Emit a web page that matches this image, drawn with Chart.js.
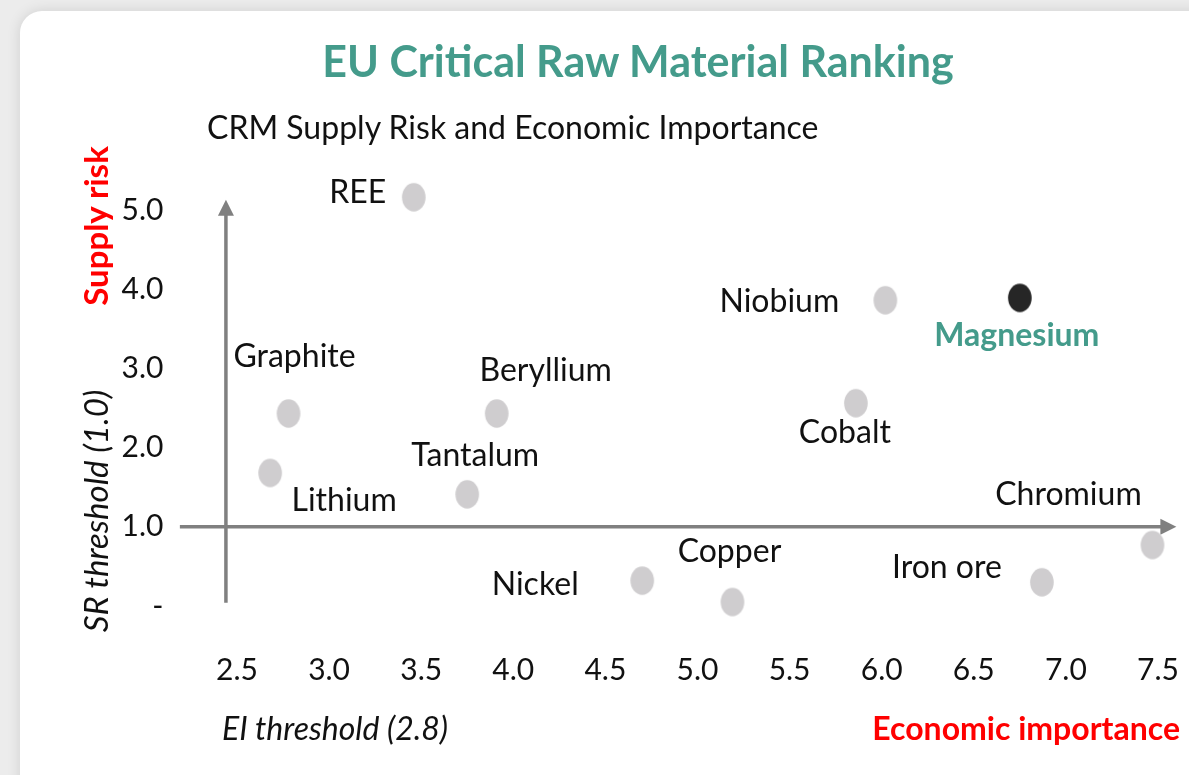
<!DOCTYPE html>
<html>
<head>
<meta charset="utf-8">
<script src="https://cdn.jsdelivr.net/npm/chart.js@4/dist/chart.umd.min.js"></script>
<style>
  html, body { margin: 0; padding: 0; }
  body { width: 1189px; height: 775px; overflow: hidden; background: #ececec; position: relative; font-family: Lato, sans-serif; }
  #card { position: absolute; left: 20px; top: 11px; width: 1260px; height: 820px; background: #fff; border-radius: 22px; box-shadow: 0 0 14px rgba(0,0,0,0.12); }
  #chart { position: absolute; left: 0; top: 0; }
  .txt { position: absolute; white-space: nowrap; line-height: 1; }
  #title { left: 0; width: 1276px; top: 39px; text-align: center; font-weight: 700; font-size: 43px; color: #449b8b; }
  #subtitle { left: 207px; top: 111px; font-size: 32px; color: #111; }
  .rot { transform-origin: center center; }
  #yTitle { left: 95px; top: 226px; transform: translate(-50%, -50%) rotate(-90deg); font-weight: 700; font-size: 33px; color: #ff0000; }
  #yThr { left: 95px; top: 511px; transform: translate(-50%, -50%) rotate(-90deg); font-style: italic; font-size: 33px; color: #111; }
  #xThr { left: 222px; top: 712px; font-style: italic; font-size: 32px; color: #111; }
  #xTitle { right: 9px; top: 712px; font-weight: 700; font-size: 32px; color: #ff0000; }
</style>
</head>
<body>
<div id="card"></div>
<canvas id="chart" width="1189" height="775"></canvas>
<div class="txt" id="title">EU Critical Raw Material Ranking</div>
<div class="txt" id="subtitle">CRM Supply Risk and Economic Importance</div>
<div class="txt rot" id="yTitle">Supply risk</div>
<div class="txt rot" id="yThr">SR threshold (1.0)</div>
<div class="txt" id="xThr">EI threshold (2.8)</div>
<div class="txt" id="xTitle">Economic importance</div>
<script>
// ---- data ----
const materials = ['REE', 'Niobium', 'Magnesium', 'Graphite', 'Beryllium', 'Cobalt', 'Lithium', 'Tantalum', 'Chromium', 'Nickel', 'Copper', 'Iron ore'];
const economicImportance = [3.46, 6.02, 6.75, 2.78, 3.91, 5.86, 2.68, 3.75, 7.47, 4.70, 5.19, 6.87];
const supplyRisk = [5.16, 3.86, 3.89, 2.43, 2.43, 2.56, 1.68, 1.41, 0.77, 0.32, 0.05, 0.30];
const highlighted = 'Magnesium';
const xTickValues = [2.5, 3.0, 3.5, 4.0, 4.5, 5.0, 5.5, 6.0, 6.5, 7.0, 7.5];
const yTickValues = [0, 1, 2, 3, 4, 5];
// threshold arrows (in data units)
const eiArrowX = 2.44, eiArrowFrom = 0.04, eiArrowTo = 5.13;
const srArrowY = 1.0, srArrowFrom = 2.19, srArrowTo = 7.6;

// ---- label placement (pixel offsets of label centre from its point) ----
const labelOffsets = {
  'REE': [-56, -5], 'Niobium': [-106, 1], 'Magnesium': [-3, 38], 'Graphite': [6, -57],
  'Beryllium': [49, -43], 'Cobalt': [-11, 29], 'Lithium': [74, 28], 'Tantalum': [8, -39],
  'Chromium': [-84, -50], 'Nickel': [-107, 4], 'Copper': [-3, -50], 'Iron ore': [-95, -15]
};

function ellipseImg(color) {
  const c = document.createElement('canvas');
  c.width = 26; c.height = 31;
  const g = c.getContext('2d');
  g.fillStyle = color;
  g.beginPath();
  g.ellipse(13, 15.5, 11.8, 14.2, 0, 0, Math.PI * 2);
  g.fill();
  return c;
}
const grayDot = ellipseImg('#cfcdcf');
const darkDot = ellipseImg('#262626');

const arrowPlugin = {
  id: 'arrows',
  beforeDatasetsDraw(chart) {
    const { ctx, scales: { x, y } } = chart;
    ctx.save();
    ctx.strokeStyle = '#808080';
    ctx.fillStyle = '#808080';
    ctx.lineWidth = 3.5;
    const vx = x.getPixelForValue(eiArrowX);
    const vy0 = y.getPixelForValue(eiArrowFrom), vy1 = y.getPixelForValue(eiArrowTo);
    ctx.beginPath(); ctx.moveTo(vx, vy0); ctx.lineTo(vx, vy1 + 14); ctx.stroke();
    ctx.beginPath(); ctx.moveTo(vx, vy1); ctx.lineTo(vx - 8, vy1 + 16); ctx.lineTo(vx + 8, vy1 + 16); ctx.closePath(); ctx.fill();
    const hy = y.getPixelForValue(srArrowY);
    const hx0 = x.getPixelForValue(srArrowFrom), hx1 = x.getPixelForValue(srArrowTo);
    ctx.beginPath(); ctx.moveTo(hx0, hy); ctx.lineTo(hx1 - 14, hy); ctx.stroke();
    ctx.beginPath(); ctx.moveTo(hx1, hy); ctx.lineTo(hx1 - 16, hy - 8); ctx.lineTo(hx1 - 16, hy + 8); ctx.closePath(); ctx.fill();
    ctx.restore();
  }
};

const labelPlugin = {
  id: 'pointLabels',
  afterDatasetsDraw(chart) {
    const { ctx } = chart;
    const meta = chart.getDatasetMeta(0);
    ctx.save();
    ctx.textAlign = 'center';
    ctx.textBaseline = 'middle';
    meta.data.forEach((pt, i) => {
      const name = materials[i];
      const off = labelOffsets[name] || [0, -30];
      if (name === highlighted) {
        ctx.font = '700 32px Lato';
        ctx.fillStyle = '#449b8b';
      } else {
        ctx.font = '400 32px Lato';
        ctx.fillStyle = '#111111';
      }
      ctx.fillText(name, pt.x + off[0], pt.y + off[1]);
    });
    ctx.restore();
  }
};

new Chart(document.getElementById('chart'), {
  type: 'scatter',
  data: {
    datasets: [{
      data: materials.map((m, i) => ({ x: economicImportance[i], y: supplyRisk[i] })),
      pointStyle: ctx => materials[ctx.dataIndex] === highlighted ? darkDot : grayDot,
      pointRadius: 13
    }]
  },
  options: {
    responsive: false,
    animation: false,
    events: [],
    layout: { autoPadding: false, padding: { top: 178.3, left: 0, right: 3.4, bottom: 0 } },
    plugins: { legend: { display: false }, tooltip: { enabled: false } },
    scales: {
      x: {
        type: 'linear', min: 2.15, max: 7.65,
        grid: { display: false, drawTicks: false }, border: { display: false },
        afterBuildTicks: s => { s.ticks = xTickValues.map(v => ({ value: v })); },
        afterFit: s => { s.height = 137.3; s.paddingLeft = 0; s.paddingRight = 0; },
        ticks: { padding: 15, color: '#111', font: { family: 'Lato', size: 30 }, maxRotation: 0, autoSkip: false,
          callback: v => Number(v).toFixed(1) }
      },
      y: {
        type: 'linear', min: -0.4, max: 5.4,
        grid: { display: false, drawTicks: false }, border: { display: false },
        afterBuildTicks: s => { s.ticks = yTickValues.map(v => ({ value: v })); },
        afterFit: s => { s.width = 172.5; s.paddingTop = 0; s.paddingBottom = 0; },
        ticks: { padding: 9, color: '#111', font: { family: 'Lato', size: 30 }, autoSkip: false,
          callback: v => v === 0 ? '-' : Number(v).toFixed(1) }
      }
    }
  },
  plugins: [arrowPlugin, labelPlugin]
});
</script>
</body>
</html>
